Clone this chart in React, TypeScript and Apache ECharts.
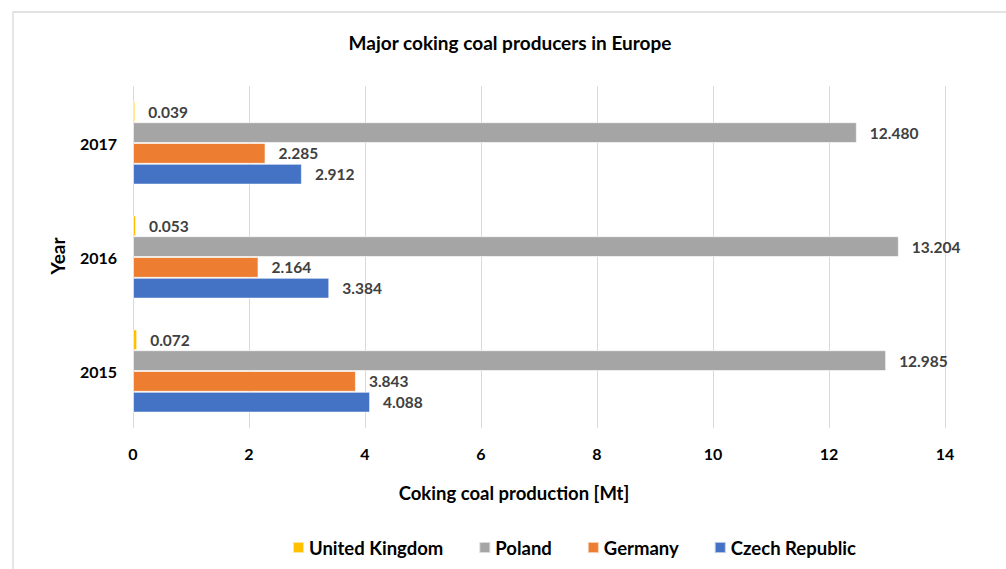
import React, { useEffect, useRef } from "react";
import * as echarts from "echarts";

const years = ["2015", "2016", "2017"];
const unitedKingdom = [0.072, 0.053, 0.039];
const poland = [12.985, 13.204, 12.48];
const germany = [3.843, 2.164, 2.285];
const czechRepublic = [4.088, 3.384, 2.912];
const xTicks = { min: 0, max: 14, interval: 2 };

const FONT = "Lato, 'Noto Sans', sans-serif";

export default function App() {
  const ref = useRef<HTMLDivElement>(null);
  useEffect(() => {
    if (!ref.current) return;
    const chart = echarts.init(ref.current, undefined, { renderer: "svg" });
    const label = {
      show: true,
      position: "right",
      distance: 13,
      color: "#404040",
      fontWeight: "bold",
      fontSize: 15.5,
      fontFamily: FONT,
      formatter: (p: any) => Number(p.value).toFixed(3),
    };
    const mk = (name: string, data: number[], color: string) => ({
      name,
      type: "bar",
      data,
      barGap: "0%",
      barCategoryGap: "27%",
      itemStyle: { color, borderColor: "rgba(255,255,255,0.6)", borderWidth: 1 },
      label,
    });
    chart.setOption({
      animation: false,
      textStyle: { fontFamily: FONT },
      graphic: [
        {
          type: "rect",
          shape: { x: 13, y: 12, width: 1100, height: 700 },
          style: { fill: "none", stroke: "#d9d9d9", lineWidth: 1.3 },
          silent: true,
        },
        {
          type: "text",
          x: 510,
          y: 42,
          style: {
            text: "Major coking coal producers in Europe",
            fontSize: 19,
            fontWeight: "bold",
            fontFamily: FONT,
            fill: "#000",
            align: "center",
            verticalAlign: "middle",
          },
        },
        {
          type: "text",
          x: 514,
          y: 493,
          style: {
            text: "Coking coal production [Mt]",
            fontSize: 18.5,
            fontWeight: "bold",
            fontFamily: FONT,
            fill: "#000",
            align: "center",
            verticalAlign: "middle",
          },
        },
        {
          type: "text",
          x: 57,
          y: 256,
          rotation: Math.PI / 2,
          style: {
            text: "Year",
            fontSize: 19,
            fontWeight: "bold",
            fontFamily: FONT,
            fill: "#000",
            align: "center",
            verticalAlign: "middle",
          },
        },
      ],
      grid: { left: 133, right: 61, top: 86, bottom: 141 },
      legend: {
        left: 292,
        top: 538,
        padding: 0,
        itemWidth: 11,
        itemHeight: 11,
        itemGap: 35,
        icon: "rect",
        textStyle: { fontSize: 18.5, fontWeight: "bold", color: "#000", fontFamily: FONT },
        data: ["United Kingdom", "Poland", "Germany", "Czech Republic"],
      },
      xAxis: {
        type: "value",
        min: xTicks.min,
        max: xTicks.max,
        interval: xTicks.interval,
        axisLine: { show: false },
        axisTick: { show: false },
        splitLine: { lineStyle: { color: "#d9d9d9", width: 1 } },
        axisLabel: { fontSize: 16, fontWeight: "bold", color: "#000", margin: 17, fontFamily: FONT },
      },
      yAxis: {
        type: "category",
        data: years,
        axisLine: { show: false },
        axisTick: { show: false },
        axisLabel: { fontSize: 16, fontWeight: "bold", color: "#000", margin: 16, fontFamily: FONT },
      },
      series: [
        mk("United Kingdom", unitedKingdom, "#FFC000"),
        mk("Poland", poland, "#A5A5A5"),
        mk("Germany", germany, "#ED7D31"),
        mk("Czech Republic", czechRepublic, "#4472C4"),
      ],
    });
    return () => chart.dispose();
  }, []);
  return (
    <div
      ref={ref}
      style={{ position: "fixed", left: 0, top: 0, width: 1006, height: 569, background: "#fff" }}
    />
  );
}
